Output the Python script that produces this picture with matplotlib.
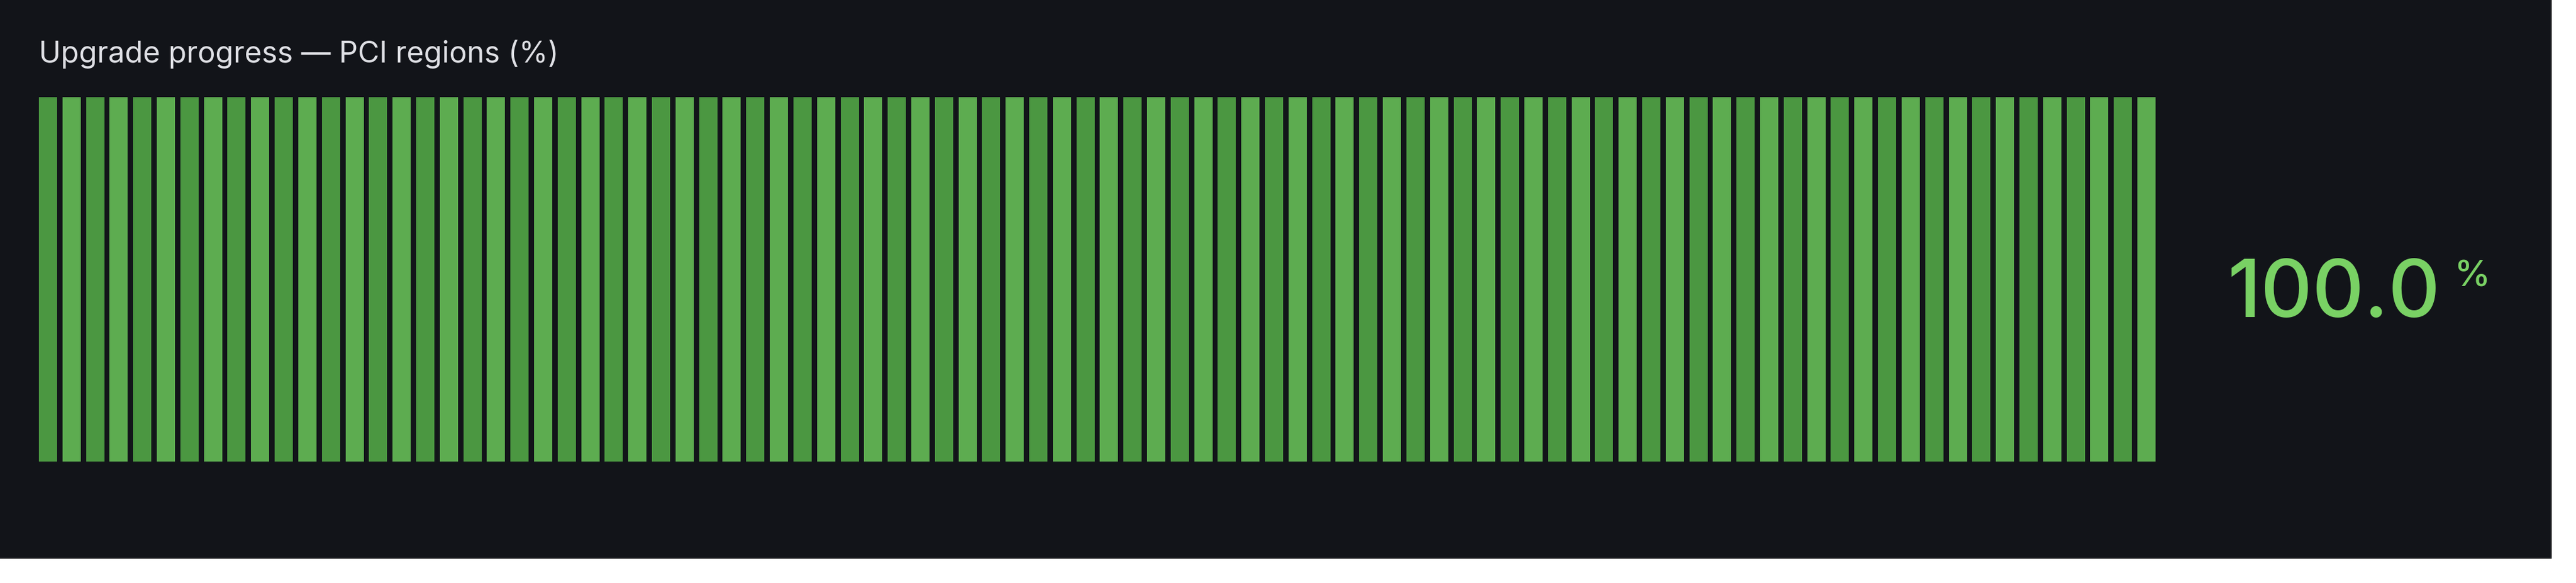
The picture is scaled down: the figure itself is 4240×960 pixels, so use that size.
import matplotlib
matplotlib.use("Agg")
import matplotlib.pyplot as plt
from matplotlib.patches import Rectangle
import numpy as np

# ---- data ----
title = "Upgrade progress \u2014 PCI regions (%)"
value = 100.0
value_label = "100.0"
unit_label = "%"
n_cells = 90
cell_colors = ["#4b9741", "#5dac50"]

# ---- figure ----
W, H, DPI = 4240, 960, 100
fig = plt.figure(figsize=(W / DPI, H / DPI), dpi=DPI, facecolor="white")
bg = "#121419"
fig.patches.append(Rectangle((0, 40 / H), 4200 / W, 920 / H, transform=fig.transFigure,
                             facecolor=bg, edgecolor="none", zorder=-10))

def fx(px):
    return px / W

def fy(py):
    return 1 - py / H

# bar area
left, right, top, bottom = 64, 3548, 160, 760
ax = fig.add_axes([fx(left), fy(bottom), fx(right - left), (bottom - top) / H])
ax.set_zorder(5)
ax.set_facecolor("none")
ax.patch.set_alpha(0)
bw = 0.773
idx = np.arange(n_cells)
lit = idx < np.round(value / 100.0 * n_cells)
colors = [cell_colors[i % 2] for i in idx]
heights = np.where(lit, 1.0, 0.0)
ax.bar(idx, heights, width=bw, color=colors, edgecolor="none", align="center")
ax.set_xlim(-bw / 2, n_cells - 1 + bw / 2)
ax.set_ylim(0, 1)
ax.axis("off")

# title
fig.text(fx(64), fy(103), title, color="#dfe0e5", fontsize=35, family="Inter",
         ha="left", va="baseline", zorder=6)

# value
green = "#79d164"
fig.text(fx(4017), fy(522), value_label, color=green, fontsize=95, family="Inter",
         fontweight="medium", ha="right", va="baseline", zorder=6)
fig.text(fx(4040), fy(472), unit_label, color=green, fontsize=43, family="Inter",
         fontweight="medium", ha="left", va="baseline", zorder=6)

fig.savefig("out.png", dpi=DPI, facecolor="white")
